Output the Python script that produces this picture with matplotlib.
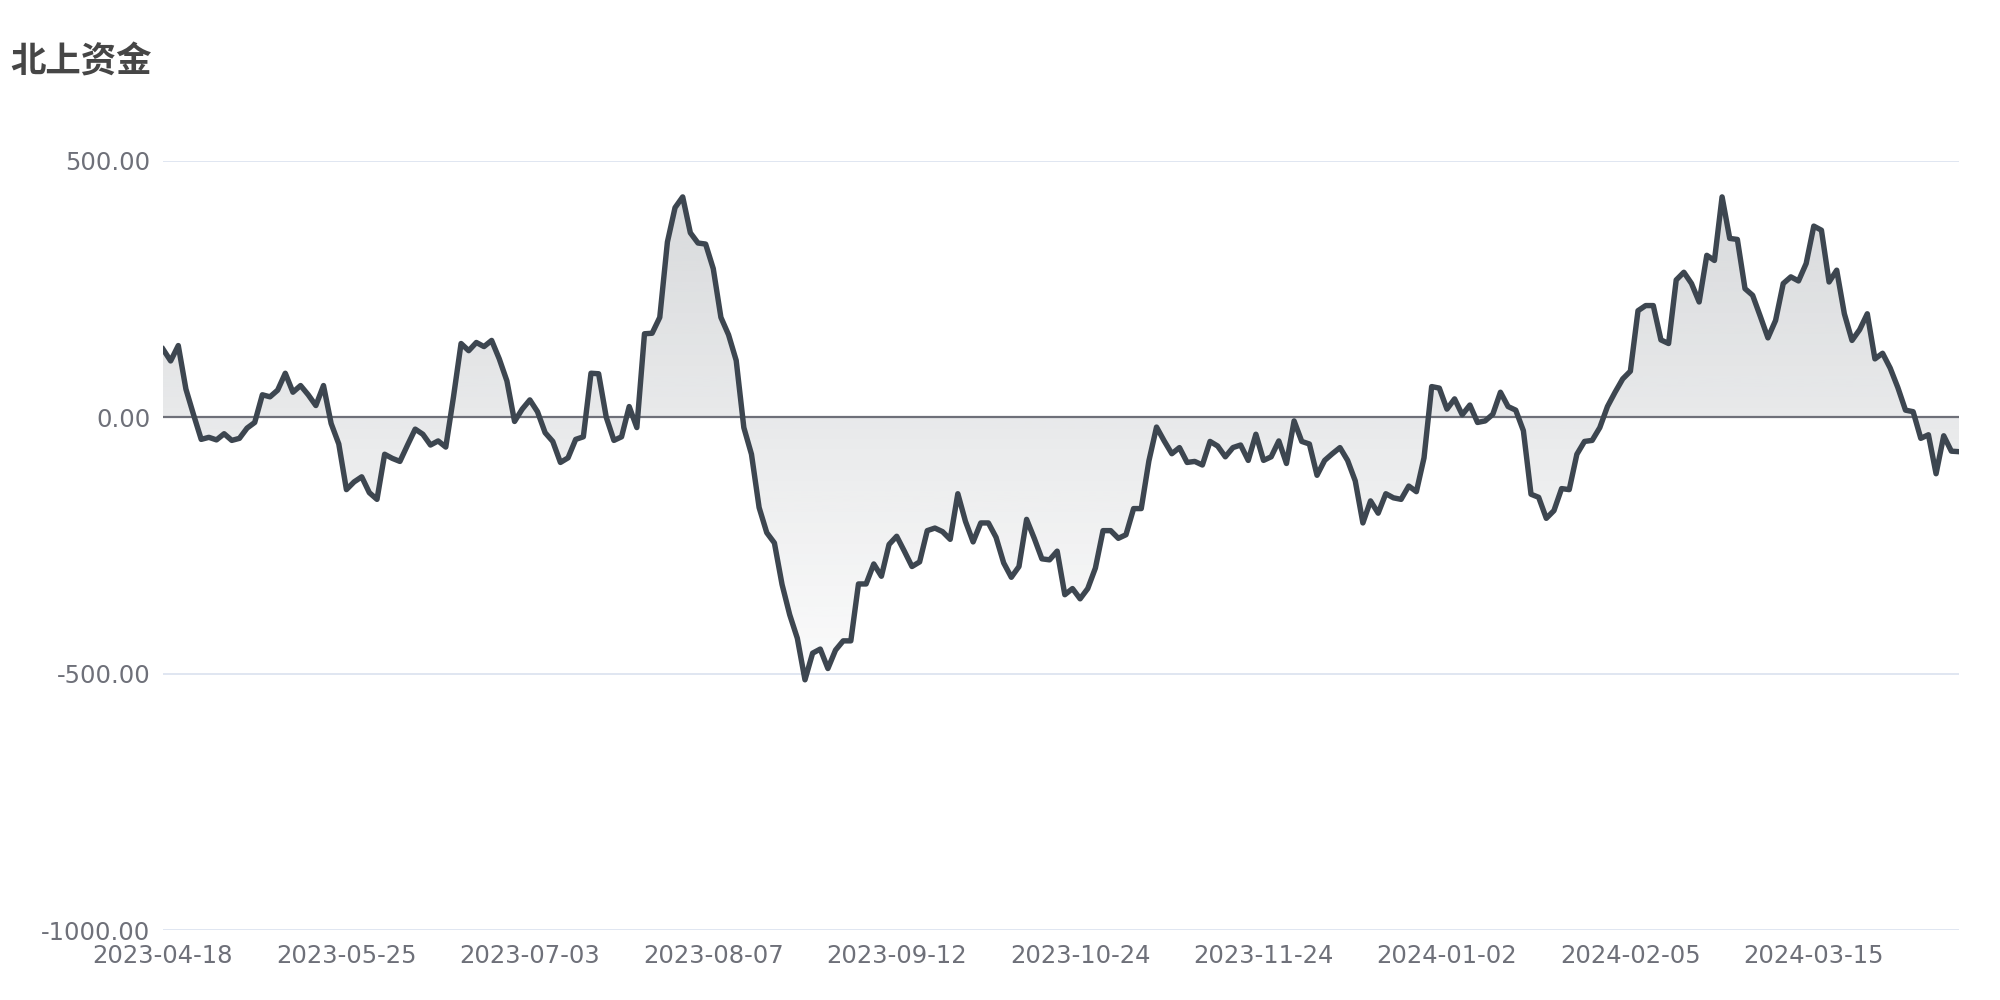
#!/usr/bin/env python3
"""Northbound capital flow line chart with gradient area fill."""

import matplotlib

matplotlib.use("Agg")
import matplotlib.pyplot as plt
import numpy as np

title = "北上资金"

tick_labels = [
    "2023-04-18", "2023-05-25", "2023-07-03", "2023-08-07", "2023-09-12",
    "2023-10-24", "2023-11-24", "2024-01-02", "2024-02-05", "2024-03-15",
]
tick_step = 24

flow = [
    133, 110, 140, 55, 5, -43, -39, -44, -32, -45,
    -41, -21, -10, 44, 40, 53, 86, 49, 62, 44,
    23, 62, -12, -52, -141, -126, -116, -147, -160, -72,
    -80, -86, -54, -23, -33, -54, -46, -58, 39, 144,
    130, 146, 138, 150, 114, 71, -8, 16, 34, 11,
    -30, -47, -88, -79, -43, -38, 86, 85, 0, -45,
    -38, 21, -20, 163, 164, 195, 342, 409, 430, 360,
    340, 338, 290, 195, 161, 111, -20, -72, -176, -225,
    -245, -326, -385, -431, -512, -460, -452, -490, -454, -436,
    -436, -325, -325, -286, -310, -248, -232, -261, -291, -282,
    -221, -216, -223, -238, -149, -203, -243, -206, -206, -234,
    -284, -312, -291, -199, -236, -276, -278, -261, -346, -334,
    -354, -334, -294, -221, -221, -236, -229, -178, -178, -85,
    -19, -46, -71, -59, -88, -86, -93, -47, -56, -77,
    -59, -54, -84, -33, -84, -77, -46, -90, -7, -47,
    -52, -113, -84, -71, -59, -84, -124, -206, -163, -187,
    -149, -157, -160, -134, -145, -79, 60, 57, 16, 36,
    5, 24, -10, -7, 6, 49, 21, 14, -26, -150,
    -156, -197, -182, -139, -141, -72, -47, -45, -20, 21,
    49, 75, 90, 208, 218, 218, 151, 144, 268, 283,
    261, 225, 316, 306, 430, 349, 347, 251, 238, 197,
    155, 189, 261, 274, 266, 300, 373, 365, 264, 287,
    202, 150, 171, 202, 114, 125, 96, 58, 14, 11,
    -41, -34, -110, -36, -66, -67,
]

y_ticks = [-1000, -500, 0, 500]

LINE = "#3d4650"
LABEL = "#6e7079"
GRID = "#e0e6f1"

plt.rcParams["font.family"] = ["Noto Sans CJK SC", "DejaVu Sans"]

fig = plt.figure(figsize=(20, 10), dpi=100)
ax = fig.add_axes([0.0815, 0.070, 0.898, 0.769])

x = np.arange(len(flow))
y = np.array(flow, dtype=float)

# gradient area between the line and zero
area = ax.fill_between(x, y, 0, color="none", linewidth=0)
grad = np.zeros((256, 1, 4))
base = np.array([61, 70, 80]) / 255.0
grad[:, 0, :3] = base
grad[:, 0, 3] = np.linspace(0.2, 0.02, 256)
img = ax.imshow(
    grad,
    extent=[x[0], x[-1], y.min(), y.max()],
    origin="upper",
    aspect="auto",
    interpolation="bicubic",
    zorder=1,
)
img.set_clip_path(area.get_paths()[0], transform=ax.transData)

for t in y_ticks:
    if t != 0:
        ax.axhline(t, color=GRID, linewidth=1.4, zorder=0)
ax.axhline(0, color=LABEL, linewidth=1.6, zorder=2)

ax.plot(x, y, color=LINE, linewidth=3.9, solid_joinstyle="round", zorder=3)

ax.set_xlim(x[0], x[-1])
ax.set_ylim(-1000, 500)
ax.set_yticks(y_ticks)
ax.set_yticklabels([f"{t:.2f}" for t in y_ticks], fontfamily="DejaVu Sans")
ax.set_xticks(x[::tick_step][: len(tick_labels)])
ax.set_xticklabels(tick_labels, fontfamily="DejaVu Sans")
ax.tick_params(axis="both", length=0, labelsize=17.5, labelcolor=LABEL)
ax.tick_params(axis="y", pad=9)
ax.tick_params(axis="x", pad=10)
for side in ax.spines.values():
    side.set_visible(False)

fig.text(0.005, 0.938, title, fontsize=25.5, fontweight="bold", color="#464646",
         ha="left", va="center")

fig.savefig("out.png", dpi=100, facecolor="white")
